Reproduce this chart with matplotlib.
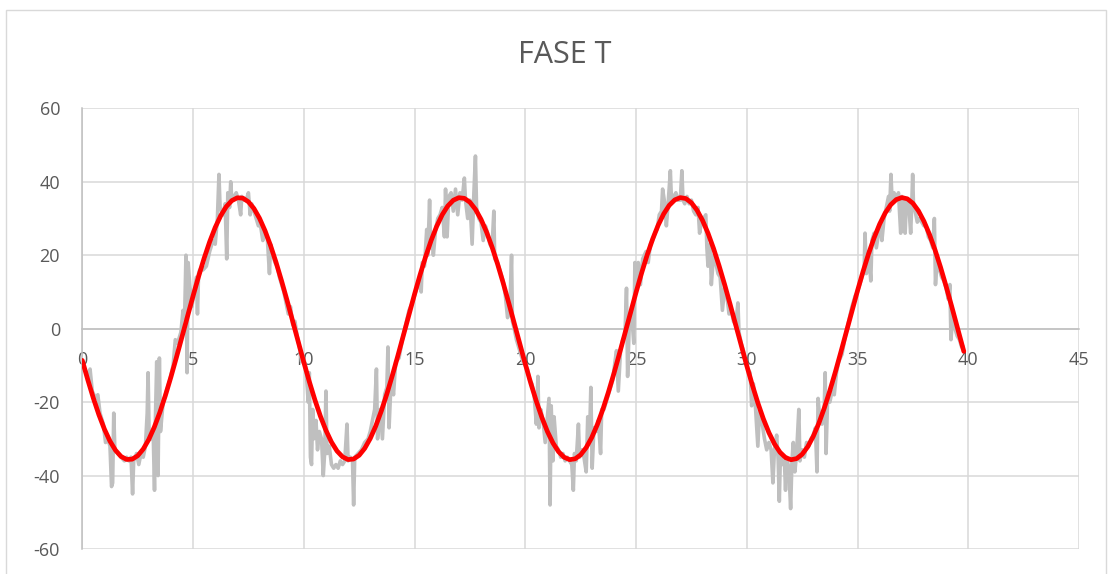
import matplotlib.pyplot as plt
from matplotlib.patches import Rectangle

plt.rcParams['font.family'] = ['Open Sans', 'DejaVu Sans']
plt.rcParams['axes.unicode_minus'] = False

TITULO = 'FASE T'

# leituras da fase T (tempo, valor), um ciclo por lista
leituras_0_10 = [
    (0.0, -9), (0.1, -11), (0.2, -12), (0.3, -13), (0.35, -11), (0.45, -17), (0.6, -19),
    (0.7, -18), (0.8, -23), (0.95, -26), (1.05, -31), (1.15, -30), (1.25, -32), (1.32, -43),
    (1.37, -42), (1.42, -23), (1.47, -33), (1.6, -34), (1.75, -35), (1.9, -36), (2.0, -35),
    (2.1, -36), (2.2, -35), (2.27, -45), (2.32, -36), (2.45, -34), (2.55, -37), (2.65, -34),
    (2.75, -35), (2.85, -32), (2.93, -23), (2.97, -12), (3.02, -30), (3.1, -30), (3.2, -28),
    (3.26, -44), (3.3, -25), (3.36, -9), (3.42, -40), (3.48, -8), (3.53, -28), (3.65, -20),
    (3.8, -17), (3.95, -14), (4.1, -10), (4.2, -3), (4.3, -4), (4.45, -1), (4.55, 5),
    (4.62, 3), (4.68, 20), (4.73, -12), (4.78, 18), (4.85, 12), (4.95, 6), (5.05, 10),
    (5.15, 14), (5.2, 4), (5.25, 15), (5.3, 16), (5.45, 16), (5.6, 17), (5.75, 21),
    (5.9, 24), (6.0, 23), (6.1, 30), (6.17, 42), (6.22, 33), (6.35, 31), (6.45, 34),
    (6.52, 19), (6.57, 37), (6.65, 33), (6.7, 40), (6.75, 35), (6.85, 36), (6.95, 37),
    (7.05, 35), (7.15, 31), (7.2, 36), (7.3, 35), (7.4, 35), (7.5, 37), (7.58, 31),
    (7.65, 34), (7.75, 32), (7.85, 30), (7.95, 28), (8.05, 28), (8.15, 24), (8.25, 26),
    (8.35, 25), (8.45, 15), (8.5, 23), (8.6, 20), (8.7, 18), (8.8, 17), (8.9, 14),
    (9.0, 12), (9.1, 10), (9.2, 7), (9.3, 4), (9.4, 6), (9.5, 1), (9.6, 2), (9.7, -2),
    (9.8, -5), (9.9, -9), (10.0, -8),
]

leituras_10_20 = [
    (10.1, -11), (10.2, -20), (10.25, -12), (10.3, -35), (10.35, -37), (10.4, -22),
    (10.45, -30), (10.55, -25), (10.62, -33), (10.7, -28), (10.8, -30), (10.88, -40),
    (10.95, -33), (11.0, -17), (11.05, -34), (11.15, -32), (11.25, -37), (11.35, -38),
    (11.45, -37), (11.55, -38), (11.65, -36), (11.75, -37), (11.85, -36), (11.95, -26),
    (12.0, -36), (12.1, -35), (12.2, -36), (12.25, -48), (12.3, -35), (12.45, -34),
    (12.6, -33), (12.75, -31), (12.9, -30), (13.0, -28), (13.1, -25), (13.2, -22),
    (13.28, -11), (13.33, -30), (13.45, -22), (13.55, -30), (13.65, -18), (13.75, -16),
    (13.8, -5), (13.85, -27), (13.95, -13), (14.05, -18), (14.15, -9), (14.3, -8),
    (14.45, -3), (14.6, 1), (14.75, 5), (14.9, 7), (15.0, 9),
    (15.1, 11), (15.2, 13), (15.3, 10), (15.35, 18), (15.45, 17), (15.55, 27), (15.6, 20),
    (15.68, 35), (15.72, 22), (15.8, 24), (15.85, 20), (15.95, 27), (16.05, 30), (16.15, 31),
    (16.25, 33), (16.35, 25), (16.4, 38), (16.47, 25), (16.55, 36), (16.65, 37), (16.75, 32),
    (16.85, 38), (16.95, 31), (17.05, 37), (17.15, 35), (17.25, 41), (17.3, 35), (17.4, 30),
    (17.5, 35), (17.6, 23), (17.68, 37), (17.75, 47), (17.8, 33), (17.9, 30), (18.0, 29),
    (18.1, 24), (18.2, 28), (18.3, 26), (18.4, 23), (18.5, 22), (18.58, 32), (18.62, 19),
    (18.75, 18), (18.9, 15), (19.0, 13), (19.1, 9), (19.2, 3), (19.3, 5), (19.38, 20),
    (19.42, 2), (19.5, 0), (19.6, -3), (19.7, -5), (19.8, -7), (19.9, -9), (20.0, -10),
]

leituras_20_30 = [
    (20.1, -11), (20.2, -14), (20.3, -15), (20.4, -18), (20.5, -26), (20.57, -13),
    (20.62, -27), (20.7, -22), (20.8, -25), (20.9, -31), (21.0, -24), (21.07, -19),
    (21.12, -48), (21.17, -21), (21.25, -36), (21.3, -24), (21.4, -32), (21.5, -33),
    (21.6, -35), (21.7, -34), (21.8, -36), (21.9, -35), (22.0, -36), (22.1, -37),
    (22.17, -44), (22.22, -34), (22.3, -36), (22.4, -26), (22.45, -35), (22.55, -33),
    (22.65, -35), (22.75, -39), (22.82, -24), (22.9, -30), (22.96, -16), (23.02, -38),
    (23.1, -27), (23.2, -28), (23.3, -25), (23.4, -34), (23.45, -22), (23.55, -22),
    (23.65, -20), (23.8, -17), (23.95, -14), (24.05, -9), (24.12, -6), (24.2, -17),
    (24.3, -6), (24.4, -3), (24.5, -2), (24.57, 11), (24.62, -13), (24.7, 2), (24.8, 4),
    (24.9, -4), (24.95, 18), (25.0, 10),
    (25.1, 18), (25.2, 12), (25.3, 19), (25.45, 21), (25.55, 18), (25.65, 23), (25.75, 24),
    (25.85, 26), (25.95, 27), (26.05, 31), (26.15, 32), (26.2, 38), (26.3, 34), (26.37, 28),
    (26.45, 34), (26.55, 43), (26.6, 35), (26.7, 36), (26.8, 37), (26.9, 35), (27.0, 35),
    (27.07, 43), (27.12, 35), (27.2, 34), (27.3, 36), (27.4, 34), (27.5, 35), (27.6, 32),
    (27.7, 31), (27.8, 33), (27.87, 26), (27.95, 29), (28.05, 30), (28.15, 31), (28.2, 22),
    (28.25, 17), (28.35, 23), (28.4, 12), (28.5, 20), (28.6, 18), (28.7, 15), (28.8, 14),
    (28.9, 5), (29.0, 11), (29.1, 9), (29.2, 4), (29.3, 5), (29.4, 2), (29.5, 1), (29.6, 7),
    (29.65, -1), (29.75, -4), (29.85, -6), (29.95, -9), (30.05, -11),
]

leituras_30_40 = [
    (30.15, -12), (30.22, -21), (30.3, -15), (30.4, -22), (30.5, -32), (30.58, -22),
    (30.7, -26), (30.8, -30), (30.9, -33), (31.0, -31), (31.1, -33), (31.18, -42),
    (31.25, -33), (31.35, -29), (31.42, -36), (31.47, -47), (31.52, -34), (31.6, -37),
    (31.7, -36), (31.75, -44), (31.8, -35), (31.9, -38), (31.98, -49), (32.04, -36),
    (32.1, -31), (32.17, -39), (32.25, -34), (32.35, -22), (32.4, -36), (32.5, -33),
    (32.6, -35), (32.7, -31), (32.8, -32), (32.9, -30), (33.0, -29), (33.1, -27),
    (33.17, -39), (33.22, -19), (33.3, -25), (33.4, -26), (33.5, -21), (33.54, -12),
    (33.58, -34), (33.65, -19), (33.75, -20), (33.85, -17), (33.95, -18), (34.05, -12),
    (34.15, -9), (34.3, -7), (34.45, -2), (34.6, 2), (34.75, 6), (34.9, 9), (35.0, 10),
    (35.1, 12), (35.2, 14), (35.3, 16), (35.34, 26), (35.4, 15), (35.5, 21), (35.6, 13),
    (35.65, 24), (35.75, 26), (35.85, 22), (35.95, 26), (36.05, 28), (36.1, 24), (36.2, 30),
    (36.3, 33), (36.4, 36), (36.45, 32), (36.51, 42), (36.56, 35), (36.65, 37), (36.75, 35),
    (36.85, 37), (36.95, 26), (37.0, 36), (37.05, 27), (37.1, 35), (37.15, 26), (37.2, 34),
    (37.3, 35), (37.4, 26), (37.45, 34), (37.49, 42), (37.53, 33), (37.6, 32), (37.7, 29),
    (37.8, 30), (37.9, 29), (38.0, 28), (38.1, 28), (38.2, 25), (38.3, 24), (38.4, 22),
    (38.47, 30), (38.52, 12), (38.6, 20), (38.7, 16), (38.8, 14), (38.9, 13), (39.0, 11),
    (39.1, 8), (39.17, 12), (39.22, -3), (39.3, 4), (39.4, 0), (39.5, -2), (39.6, -3),
    (39.7, -5), (39.75, -5),
]

# curva ajustada (senoide), um valor a cada 0,25 -- uma linha por trecho de 5
ajuste_t = [i * 0.25 for i in range(159)] + [39.65, 39.8]
ajuste_v = [
    -8.65, -13.97, -18.95, -23.46, -27.39, -30.64, -33.13, -34.81, -35.62, -35.55,
    -34.61, -32.80, -30.19, -26.83, -22.81, -18.22, -13.18, -7.81, -2.25, 3.36,
    8.89, 14.20, 19.16, 23.65, 27.55, 30.77, 33.23, 34.86, 35.64, 35.53,
    34.54, 32.70, 30.06, 26.66, 22.61, 18.00, 12.94, 7.57, 2.01, -3.61,
    -9.13, -14.43, -19.37, -23.84, -27.70, -30.89, -33.32, -34.91, -35.65, -35.50,
    -34.48, -32.60, -29.92, -26.50, -22.42, -17.79, -12.71, -7.32, -1.76, 3.86,
    9.37, 14.66, 19.58, 24.02, 27.86, 31.02, 33.40, 34.96, 35.66, 35.48,
    34.42, 32.50, 29.78, 26.33, 22.22, 17.57, 12.48, 7.08, 1.51, -4.10,
    -9.61, -14.88, -19.79, -24.20, -28.02, -31.14, -33.49, -35.01, -35.67, -35.45,
    -34.35, -32.39, -29.65, -26.16, -22.03, -17.35, -12.25, -6.84, -1.26, 4.35,
    9.85, 15.11, 20.00, 24.38, 28.17, 31.26, 33.58, 35.06, 35.68, 35.42,
    34.28, 32.29, 29.51, 25.99, 21.83, 17.13, 12.01, 6.59, 1.01, -4.60,
    -10.09, -15.33, -20.20, -24.57, -28.32, -31.38, -33.66, -35.11, -35.69, -35.39,
    -34.21, -32.18, -29.36, -25.82, -21.63, -16.91, -11.78, -6.35, -0.76, 4.84,
    10.33, 15.56, 20.41, 24.75, 28.47, 31.50, 33.74, 35.15, 35.69, 35.35,
    34.14, 32.08, 29.22, 25.64, 21.43, 16.70, 11.54, 6.10, 0.51, -2.86, -6.20,
]

x_ticks = list(range(0, 46, 5))
y_ticks = list(range(-60, 61, 20))

leituras = leituras_0_10 + leituras_10_20 + leituras_20_30 + leituras_30_40
tempo = [t for t, v in leituras]
valor = [v for t, v in leituras]

W, H = 1110, 574
fig = plt.figure(figsize=(W / 100, H / 100), dpi=100)
ax = fig.add_axes([82.3 / W, 1 - 549 / H, (1079 - 82.3) / W, (549 - 108.3) / H])

ax.plot(tempo, valor, color='#bfbfbf', lw=2.6, solid_joinstyle='round', zorder=2)
ax.plot(ajuste_t, ajuste_v, color='#ff0000', lw=3.4, solid_capstyle='round', zorder=3)

ax.set_xlim(0, 45)
ax.set_ylim(-60, 60)
ax.set_xticks(x_ticks)
ax.set_yticks(y_ticks)
ax.grid(True, color='#d9d9d9', lw=1.1)
ax.set_axisbelow(True)

for lado in ['top', 'right']:
    ax.spines[lado].set_visible(False)
ax.spines['bottom'].set_position(('data', 0))
for lado in ['bottom', 'left']:
    ax.spines[lado].set_color('#bfbfbf')
    ax.spines[lado].set_linewidth(1.1)

ax.tick_params(length=0, labelsize=13, labelcolor='#595959')
ax.tick_params(axis='x', pad=16)
ax.tick_params(axis='y', pad=16)

fig.text(564.5 / W, 1 - 55 / H, TITULO, ha='center', va='center', fontsize=22, color='#595959')

# moldura da area do grafico
fig.patches.append(Rectangle((6 / W, -0.02), 1100 / W, 1.02 - 10 / H, transform=fig.transFigure,
                             fill=False, ec='#d9d9d9', lw=1.0))

fig.savefig('out.png', dpi=100)
